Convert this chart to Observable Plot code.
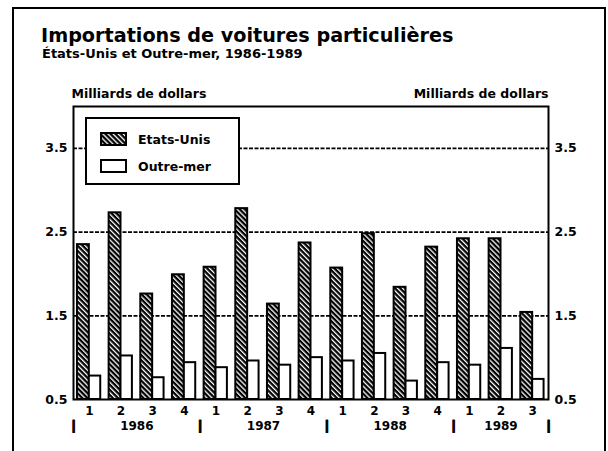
<!DOCTYPE html>
<html><head><meta charset="utf-8">
<script src="https://cdn.jsdelivr.net/npm/d3@7"></script>
<script src="https://cdn.jsdelivr.net/npm/@observablehq/plot@0.6"></script>
<style>
body{margin:0;background:#fff;}
#wrap{position:relative;width:608px;height:451px;overflow:hidden;font-family:"DejaVu Sans",sans-serif;font-weight:bold;color:#000;background:#fff;}
#border{position:absolute;left:12px;top:7px;width:590px;height:480px;border:2px solid #000;}
#title{position:absolute;left:41px;top:26px;font-size:19.2px;line-height:1;white-space:nowrap;}
#subtitle{position:absolute;left:42px;top:47px;font-size:13px;line-height:1;white-space:nowrap;}
#chart{position:absolute;left:0;top:80px;}
#legend{position:absolute;left:85px;top:117px;width:151px;height:64px;border:2px solid #000;background:#fff;font-size:12.5px;}
.item{position:absolute;left:13px;height:14px;display:flex;align-items:center;}
.item svg{margin-right:11px;}
</style></head>
<body>
<div id="wrap">
  <div id="border"></div>
  <div id="title">Importations de voitures particulières</div>
  <div id="subtitle">États-Unis et Outre-mer, 1986-1989</div>
  <div id="chart"></div>
  <div id="legend"></div>
</div>
<script>
const quarters = ["1","2","3","4","1","2","3","4","1","2","3","4","1","2","3"];
const quarterYears = ["1986","1986","1986","1986","1987","1987","1987","1987","1988","1988","1988","1988","1989","1989","1989"];
const years = ["1986","1987","1988","1989"];
const etatsUnis = [2.35, 2.73, 1.76, 1.99, 2.08, 2.78, 1.64, 2.37, 2.07, 2.48, 1.84, 2.32, 2.42, 2.42, 1.54];
const outreMer  = [0.78, 1.02, 0.76, 0.94, 0.88, 0.96, 0.91, 1.00, 0.96, 1.05, 0.72, 0.94, 0.91, 1.11, 0.74];
const seriesNames = ["Etats-Unis", "Outre-mer"];
const yTicks = [0.5, 1.5, 2.5, 3.5];
const gridValues = [1.5, 2.5, 3.5];
const yLabel = "Milliards de dollars";

const rows = quarters.map((q, i) => ({pos: i, quarter: q, year: quarterYears[i], us: etatsUnis[i], om: outreMer[i]}));
const yearGroups = years.map(y => {
  const p = rows.filter(r => r.year === y).map(r => r.pos);
  return {year: y, center: d3.mean(p) + 0.5};
});
const boundaries = [0, ...years.map(y => d3.max(rows.filter(r => r.year === y), r => r.pos) + 1)];

const svg = Plot.plot({
  width: 608, height: 371,
  marginTop: 26, marginBottom: 52, marginLeft: 73, marginRight: 60,
  style: {fontFamily: "DejaVu Sans", fontWeight: "bold", fontSize: "12.5px", background: "transparent", color: "black"},
  x: {domain: [0, rows.length], axis: null},
  y: {domain: [0.5, 4.0], axis: null},
  marks: [
    Plot.ruleY(gridValues, {stroke: "black", strokeDasharray: "4,1.5", strokeWidth: 1.7}),
    Plot.rect(rows, {x1: d => d.pos + 0.125, x2: d => d.pos + 0.5, y1: () => 0.5, y2: "us", fill: "url(#hatch)", stroke: "black", strokeWidth: 2}),
    Plot.rect(rows, {x1: d => d.pos + 0.5, x2: d => d.pos + 0.86, y1: () => 0.5, y2: "om", fill: "white", stroke: "black", strokeWidth: 2}),
    Plot.frame({stroke: "black", strokeWidth: 2}),
    Plot.axisY(yTicks, {anchor: "left", tickSize: 0, tickPadding: 6, tickFormat: d3.format(".1f"), label: null, fontSize: 12.5}),
    Plot.axisY(yTicks, {anchor: "right", tickSize: 0, tickPadding: 6, tickFormat: d3.format(".1f"), label: null, fontSize: 12.5}),
    Plot.text(rows, {x: d => d.pos + 0.5, text: "quarter", frameAnchor: "bottom", dy: 15, fontSize: 12}),
    Plot.text(yearGroups, {x: "center", text: "year", frameAnchor: "bottom", dy: 30.5, fontSize: 12}),
    Plot.text(boundaries, {x: d => d, text: () => "|", frameAnchor: "bottom", dy: 30, fontSize: 13, fill: "black", stroke: "black", strokeWidth: 1.2}),
    Plot.text([yLabel], {frameAnchor: "top-left", text: d => d, dy: -17, dx: -2, textAnchor: "start", fontSize: 12.5}),
    Plot.text([yLabel], {frameAnchor: "top-right", text: d => d, dy: -17, textAnchor: "end", fontSize: 12.5})
  ]
});
d3.select(svg).insert("defs", ":first-child").html(
  '<pattern id="hatch" patternUnits="userSpaceOnUse" width="3.6" height="3.6" patternTransform="rotate(-45)">' +
  '<rect width="3.6" height="3.6" fill="black"/><rect width="1.3" height="3.6" fill="white"/></pattern>'
);
document.getElementById("chart").appendChild(svg);

const legend = d3.select("#legend");
const fills = ["url(#hatch)", "white"];
seriesNames.forEach((name, i) => {
  const item = legend.append("div").attr("class", "item").style("top", (13 + i * 27) + "px");
  const sw = item.append("svg").attr("width", 27).attr("height", 14);
  sw.append("rect").attr("x", 1).attr("y", 1).attr("width", 25).attr("height", 12)
    .attr("fill", fills[i]).attr("stroke", "black").attr("stroke-width", 2);
  item.append("span").text(name);
});
</script>
</body></html>
